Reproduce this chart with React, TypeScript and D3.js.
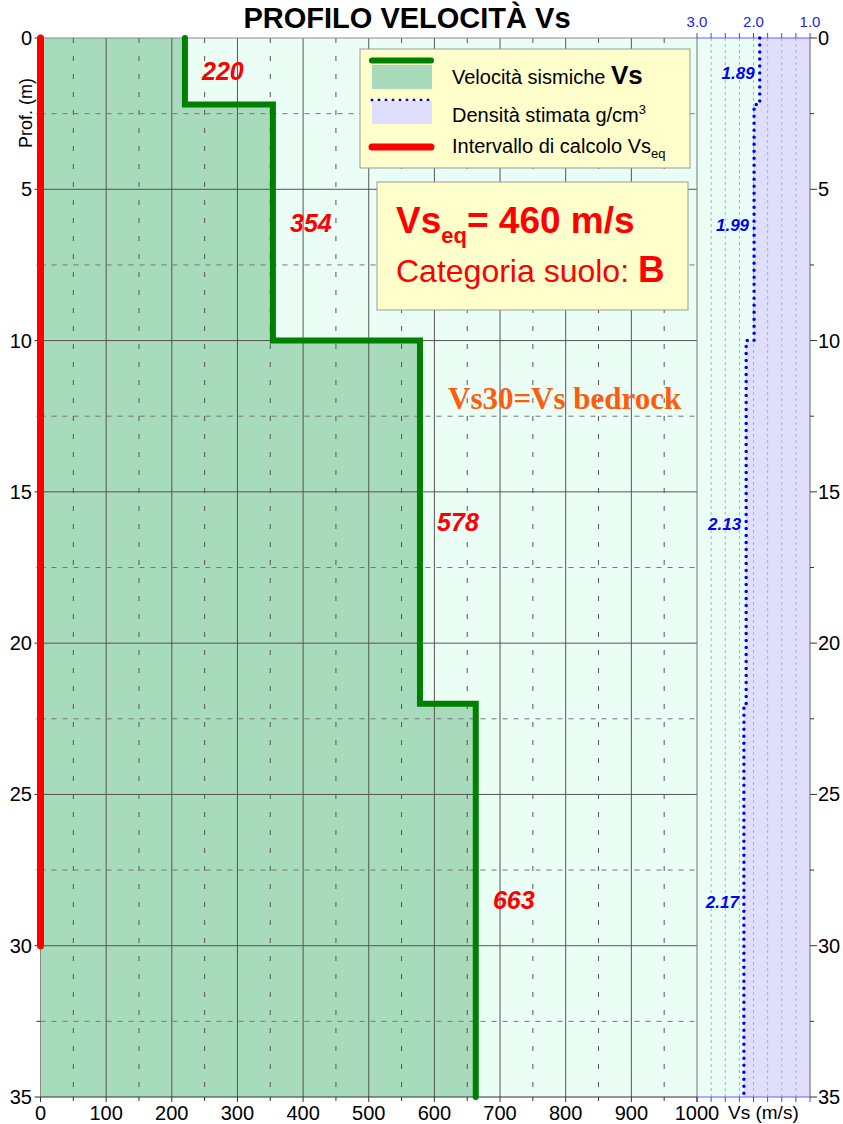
import React from "react";
import * as d3 from "d3";

// layers of the Vs profile
const layerTop = [0, 2.2, 10, 22];
const layerBottom = [2.2, 10, 22, 35];
const vsValues = [220, 354, 578, 663];
const densityValues = [1.89, 1.99, 2.13, 2.17];
const vsEqInterval = [0, 30];

const depthTicks = [0, 5, 10, 15, 20, 25, 30, 35];
const vsTicks = [0, 100, 200, 300, 400, 500, 600, 700, 800, 900, 1000];
const densityTickLabels = [3.0, 2.0, 1.0];

const W = 843;
const H = 1124;
const FONT = "'Liberation Sans', Arial, sans-serif";

export default function App() {
  const x = d3.scaleLinear().domain([0, 1000]).range([40.5, 697]);
  const dx = d3.scaleLinear().domain([3, 1]).range([697, 810]);
  const y = d3.scaleLinear().domain([0, 35]).range([38, 1097]);

  const vsPts: [number, number][] = [];
  const dPts: [number, number][] = [];
  layerTop.forEach((t, i) => {
    vsPts.push([vsValues[i], t], [vsValues[i], layerBottom[i]]);
    dPts.push([densityValues[i], t], [densityValues[i], layerBottom[i]]);
  });

  const vsLine = d3.line<[number, number]>().x(d => x(d[0])).y(d => y(d[1]));
  const vsArea = d3.area<[number, number]>().y(d => y(d[1])).x0(x(0)).x1(d => x(d[0]));
  const dLine = d3.line<[number, number]>().x(d => dx(d[0])).y(d => y(d[1]));
  const dArea = d3.area<[number, number]>().y(d => y(d[1])).x0(d => dx(d[0])).x1(dx(1));

  const majV = d3.range(100, 1000, 100);
  const minV = d3.range(50, 1000, 100);
  const majH = d3.range(5, 35, 5);
  const minH = d3.range(2.5, 35, 5);
  const dGrid = d3.range(2.75, 1.0, -0.25);
  const dTicks = d3.range(3, 0.99, -0.25);

  const mids = layerTop.map((t, i) => (t + layerBottom[i]) / 2);

  return (
    <svg width={W} height={H} style={{ position: "absolute", left: 0, top: 0, background: "#fff" }} fontFamily={FONT}>
      {/* backgrounds */}
      <rect x={x(0)} y={y(0)} width={dx(1) - x(0)} height={y(35) - y(0)} fill="#eafef6" />
      <path d={vsArea(vsPts) || ""} fill="#a7dbbc" />
      <path d={dArea(dPts) || ""} fill="#dfdffd" />

      {/* main grid */}
      {minV.map(v => (
        <line key={"mv" + v} x1={x(v)} x2={x(v)} y1={y(0)} y2={y(35)} stroke="#555" strokeWidth={1} strokeDasharray="5,13" />
      ))}
      {minH.map(v => (
        <line key={"mh" + v} x1={x(0)} x2={x(1000)} y1={y(v)} y2={y(v)} stroke="#777" strokeWidth={1} strokeDasharray="5,6" />
      ))}
      {majV.map(v => (
        <line key={"Mv" + v} x1={x(v)} x2={x(v)} y1={y(0)} y2={y(35)} stroke="#555" strokeWidth={1} />
      ))}
      {majH.map(v => (
        <line key={"Mh" + v} x1={x(0)} x2={x(1000)} y1={y(v)} y2={y(v)} stroke="#555" strokeWidth={1} />
      ))}

      {/* density grid */}
      {dGrid.map(v => (
        <line key={"dg" + v} x1={dx(v)} x2={dx(v)} y1={y(0)} y2={y(35)} stroke="#b0b0b0" strokeWidth={1} strokeDasharray="3,3" />
      ))}

      {/* borders */}
      <line x1={x(0)} x2={x(1000)} y1={y(0)} y2={y(0)} stroke="#888" />
      <line x1={x(0)} x2={x(0)} y1={y(0)} y2={y(35)} stroke="#888" />
      <line x1={x(1000)} x2={x(1000)} y1={y(0)} y2={y(35)} stroke="#777" />
      <line x1={dx(1)} x2={dx(1)} y1={y(0)} y2={y(35)} stroke="#666" />
      <line x1={x(0)} x2={x(1000)} y1={y(35)} y2={y(35)} stroke="#333" />
      <line x1={dx(3)} x2={dx(1)} y1={y(0)} y2={y(0)} stroke="#6060ff" />
      <line x1={dx(3)} x2={dx(1)} y1={y(35)} y2={y(35)} stroke="#6060ff" />

      {/* density ticks */}
      {dTicks.map(v => (
        <g key={"dt" + v}>
          <line x1={dx(v)} x2={dx(v)} y1={y(0) - 5} y2={y(0)} stroke="#4040ff" />
          <line x1={dx(v)} x2={dx(v)} y1={y(35)} y2={y(35) + 5} stroke="#4040ff" />
        </g>
      ))}
      {densityTickLabels.map(v => (
        <text key={"dl" + v} x={dx(v)} y={27} fontSize={15} fill="#2020ff" textAnchor="middle">
          {v.toFixed(1)}
        </text>
      ))}

      {/* vs axis */}
      {vsTicks.map(v => (
        <g key={"vt" + v}>
          <line x1={x(v)} x2={x(v)} y1={y(35)} y2={y(35) + 5} stroke="#333" />
          <text x={x(v)} y={1120} fontSize={20} textAnchor="middle" fill="#000">{v}</text>
        </g>
      ))}
      {minV.map(v => (
        <line key={"vmt" + v} x1={x(v)} x2={x(v)} y1={y(35)} y2={y(35) + 4} stroke="#333" />
      ))}
      <text x={728} y={1119} fontSize={19} fill="#000">Vs (m/s)</text>

      {/* depth axes */}
      {depthTicks.map(v => (
        <g key={"yt" + v}>
          <line x1={x(0) - 6} x2={x(0)} y1={y(v)} y2={y(v)} stroke="#333" />
          <text x={32} y={y(v) + 7} fontSize={20} textAnchor="end" fill="#000">{v}</text>
          <line x1={dx(1)} x2={dx(1) + 7} y1={y(v)} y2={y(v)} stroke="#333" />
          <text x={818} y={y(v) + 7} fontSize={20} fill="#000">{v}</text>
        </g>
      ))}
      {minH.map(v => (
        <g key={"ymt" + v}>
          <line x1={x(0) - 4} x2={x(0)} y1={y(v)} y2={y(v)} stroke="#333" />
          <line x1={dx(1)} x2={dx(1) + 4} y1={y(v)} y2={y(v)} stroke="#333" />
        </g>
      ))}
      <text transform="translate(32,113) rotate(-90)" fontSize={18} textAnchor="middle" fill="#000">Prof. (m)</text>

      {/* profile lines */}
      <path d={dLine(dPts) || ""} fill="none" stroke="#0000ff" strokeWidth={3.5} strokeDasharray="0,7" strokeLinecap="round" />
      <path d={vsLine(vsPts) || ""} fill="none" stroke="#008000" strokeWidth={6} strokeLinejoin="miter" strokeLinecap="round" />
      <line x1={x(0)} x2={x(0)} y1={y(vsEqInterval[0])} y2={y(vsEqInterval[1])} stroke="#ff0000" strokeWidth={7} strokeLinecap="round" />

      {/* layer labels */}
      {vsValues.map((v, i) => (
        <text key={"vl" + i} x={x(v) + 38} y={y(mids[i]) + 9} fontSize={25} fontWeight="bold" fontStyle="italic" fill="#ff0000" textAnchor="middle">
          {v}
        </text>
      ))}
      {densityValues.map((v, i) => (
        <text key={"dvl" + i} x={dx(v) - 5} y={y(mids[i]) + 8} fontSize={17} fontWeight="bold" fontStyle="italic" fill="#0000ff" textAnchor="end">
          {v.toFixed(2)}
        </text>
      ))}

      {/* title */}
      <text x={407} y={28} fontSize={29} fontWeight="bold" textAnchor="middle" fill="#000">PROFILO VELOCITÀ Vs</text>

      {/* legend */}
      <rect x={360} y={49} width={330} height={119} fill="#ffffcc" stroke="#999" />
      <line x1={372} x2={431} y1={60.5} y2={60.5} stroke="#008000" strokeWidth={6} strokeLinecap="round" />
      <rect x={372} y={65} width={60} height={24} fill="#a7dbbc" />
      <line x1={372} x2={431} y1={100} y2={100} stroke="#0000ff" strokeWidth={3} strokeDasharray="0,7" strokeLinecap="round" />
      <rect x={372} y={101} width={60} height={23} fill="#dfdffd" />
      <line x1={372} x2={431} y1={147} y2={147} stroke="#ff0000" strokeWidth={7} strokeLinecap="round" />
      <text x={452} y={84} fontSize={20} fill="#000">
        Velocità sismiche <tspan fontWeight="bold" fontSize={26}>Vs</tspan>
      </text>
      <text x={452} y={122} fontSize={20} fill="#000">
        Densità stimata g/cm<tspan fontSize={13} dy={-8}>3</tspan>
      </text>
      <text x={452} y={153} fontSize={20} fill="#000">
        Intervallo di calcolo Vs<tspan fontSize={13} dy={5}>eq</tspan>
      </text>

      {/* Vs,eq box */}
      <rect x={377} y={182} width={311} height={128} fill="#ffffcc" stroke="#999" />
      <text x={396} y={233} fontSize={37} fontWeight="bold" fill="#ff0000">
        Vs<tspan fontSize={22} dy={10}>eq</tspan><tspan dy={-10}>= 460 m/s</tspan>
      </text>
      <text x={396} y={282} fontSize={32} fill="#ff0000">
        Categoria suolo: <tspan fontWeight="bold" fontSize={37}>B</tspan>
      </text>

      <text x={448} y={409} fontSize={31} fontWeight="bold" fill="#ff5c0d" fontFamily="'Liberation Serif', 'Times New Roman', serif">
        Vs30=Vs bedrock
      </text>
    </svg>
  );
}
